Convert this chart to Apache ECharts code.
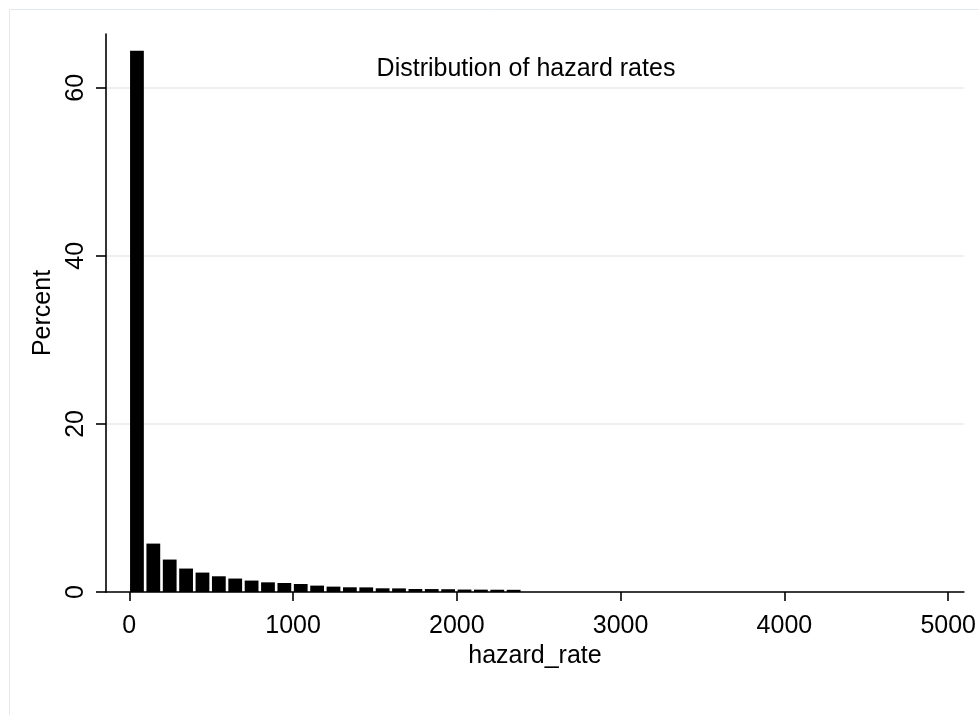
<!DOCTYPE html>
<html>
<head>
<meta charset="utf-8">
<script src="https://cdn.jsdelivr.net/npm/echarts@6/dist/echarts.min.js"></script>
<style>
html,body{margin:0;padding:0;background:#fff;}
#main{width:979px;height:715px;}
</style>
</head>
<body>
<div id="main"></div>
<script>
// Histogram bins (hazard_rate), bin width 100
const binStarts = [0,100,200,300,400,500,600,700,800,900,1000,1100,1200,1300,1400,1500,1600,1700,1800,1900,2000,2100,2200,2300];
const binWidth = 100;
const percents = [64.4,5.76,3.86,2.79,2.31,1.87,1.60,1.36,1.15,1.07,0.95,0.76,0.64,0.56,0.55,0.44,0.43,0.36,0.35,0.33,0.29,0.28,0.27,0.26];
const xTicks = [0,1000,2000,3000,4000,5000];
const yTicks = [0,20,40,60];
const titleText = 'Distribution of hazard rates';
const xName = 'hazard_rate';
const yName = 'Percent';

const FONT = '"Liberation Sans", Arial, sans-serif';
const data = binStarts.map((s, i) => [s, s + binWidth, percents[i]]);

const chart = echarts.init(document.getElementById('main'), null, {renderer: 'canvas'});
chart.setOption({
  animation: false,
  backgroundColor: '#ffffff',
  graphic: [{
    type: 'rect', silent: true, z: -10,
    shape: {x: 9.5, y: 9.5, width: 1000, height: 1000},
    style: {fill: 'none', stroke: '#e3e9ed', lineWidth: 1}
  }],
  title: {
    text: titleText, left: 521, top: 52, textAlign: 'center',
    textStyle: {fontFamily: FONT, fontSize: 25, fontWeight: 'normal', color: '#000'}
  },
  grid: {left: 106, right: 14, top: 34, bottom: 123, containLabel: false},
  xAxis: {
    type: 'value', min: -142, max: 5096,
    name: xName, nameLocation: 'middle', nameGap: 42,
    nameTextStyle: {fontFamily: FONT, fontSize: 25, color: '#000'},
    axisLine: {show: true, onZero: false, lineStyle: {color: '#000', width: 1.6}},
    axisTick: {show: true, length: 9, inside: false, customValues: xTicks, lineStyle: {color: '#000', width: 1.6}},
    axisLabel: {customValues: xTicks, formatter: function (v) { return String(v); }, fontFamily: FONT, fontSize: 25, color: '#000', margin: 22},
    splitLine: {show: false}
  },
  yAxis: {
    type: 'value', min: 0, max: 66.4, interval: 20,
    name: yName, nameLocation: 'middle', nameGap: 39, nameRotate: 90,
    nameTextStyle: {fontFamily: FONT, fontSize: 25, color: '#000'},
    axisLine: {show: true, onZero: false, lineStyle: {color: '#000', width: 1.6}},
    axisTick: {show: true, length: 10, customValues: yTicks, lineStyle: {color: '#000', width: 1.6}},
    axisLabel: {customValues: yTicks, formatter: function (v) { return String(v); }, rotate: 90, fontFamily: FONT, fontSize: 25, color: '#000', margin: 17},
    splitLine: {show: true, lineStyle: {color: '#ebebeb', width: 1.5}}
  },
  series: [{
    type: 'custom',
    data: data,
    encode: {x: [0, 1], y: 2},
    renderItem: function (params, api) {
      const p0 = api.coord([api.value(0), api.value(2)]);
      const p1 = api.coord([api.value(1), 0]);
      return {
        type: 'rect',
        shape: {x: p0[0] + 0.8, y: p0[1], width: p1[0] - p0[0] - 2.6, height: p1[1] - p0[1]},
        style: {fill: '#000'}
      };
    }
  }]
});
</script>
</body>
</html>
